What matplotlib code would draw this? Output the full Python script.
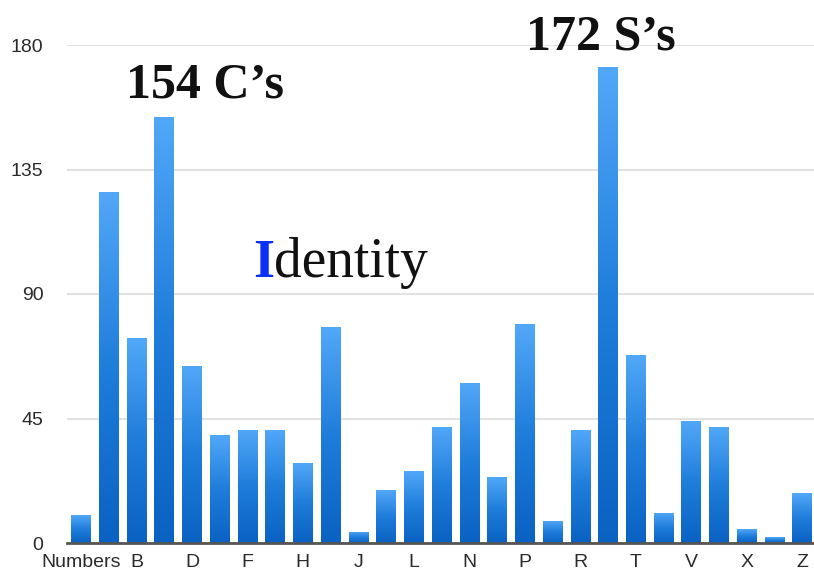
import numpy as np
import matplotlib
matplotlib.use("Agg")
import matplotlib.pyplot as plt
from matplotlib.colors import LinearSegmentedColormap

categories = ["Numbers", "A", "B", "C", "D", "E", "F", "G", "H", "I", "J", "K", "L",
              "M", "N", "O", "P", "Q", "R", "S", "T", "U", "V", "W", "X", "Y", "Z"]
counts = [10, 127, 74, 154, 64, 39, 41, 41, 29, 78, 4, 19, 26,
          42, 58, 24, 79, 8, 41, 172, 68, 11, 44, 42, 5, 2, 18]
y_ticks = [0, 45, 90, 135, 180]
shown_labels = ["Numbers", "B", "D", "F", "H", "J", "L", "N", "P", "R", "T", "V", "X", "Z"]

W, H = 814, 571
fig = plt.figure(figsize=(W / 100, H / 100), dpi=100)
fig.patch.set_facecolor("white")
ax = fig.add_axes([67 / W, (H - 543) / H, (W - 67) / W, (543 - 45) / H])
ax.set_facecolor("white")

x = np.arange(len(categories))
bars = ax.bar(x, counts, width=0.7, color="#2a86e0", edgecolor="none", zorder=3)

cmap = LinearSegmentedColormap.from_list("barg", ["#0a62c3", "#1f7ddb", "#52a8f8"])
grad = np.linspace(0, 1, 256).reshape(-1, 1)
for b in bars:
    x0, w, h = b.get_x(), b.get_width(), b.get_height()
    im = ax.imshow(grad, cmap=cmap, origin="lower", aspect="auto",
                   extent=[x0, x0 + w, 0, h], zorder=4, interpolation="bilinear")
    im.set_clip_path(b)

ax.set_xlim(-0.505, 26.43)
ax.set_ylim(0, 180)

ax.set_yticks(y_ticks)
ax.set_yticklabels([str(v) for v in y_ticks])
ax.set_xticks([categories.index(c) for c in shown_labels])
ax.set_xticklabels(shown_labels)

for s in ["top", "right", "left"]:
    ax.spines[s].set_visible(False)
ax.spines["bottom"].set_color("#555555")
ax.spines["bottom"].set_linewidth(2.0)
ax.spines["bottom"].set_zorder(6)

ax.tick_params(axis="both", length=0, labelsize=14, labelcolor="#2a2a2a",
               labelfontfamily="Liberation Sans")
ax.tick_params(axis="y", pad=17)
ax.tick_params(axis="x", pad=8)

ax.yaxis.grid(True, color="#e2e2e2", linewidth=1.5, zorder=0)
ax.set_axisbelow(True)

serif = "Liberation Serif"
fig.text(205 / W, (H - 98) / H, "154 C\u2019s", ha="center", va="baseline",
         fontsize=36, fontweight="bold", family=serif, color="#111111")
fig.text(601 / W, (H - 50) / H, "172 S\u2019s", ha="center", va="baseline",
         fontsize=36, fontweight="bold", family=serif, color="#111111")
t_i = fig.text(253 / W, (H - 277) / H, "I", ha="left", va="baseline",
               fontsize=39, fontweight="bold", family=serif, color="#0a30f5")
ax.annotate("dentity", xy=(1, 0), xycoords=t_i, ha="left", va="bottom",
            fontsize=40, family=serif, color="#111111", annotation_clip=False)

fig.savefig("out.png", dpi=100, facecolor="white")
